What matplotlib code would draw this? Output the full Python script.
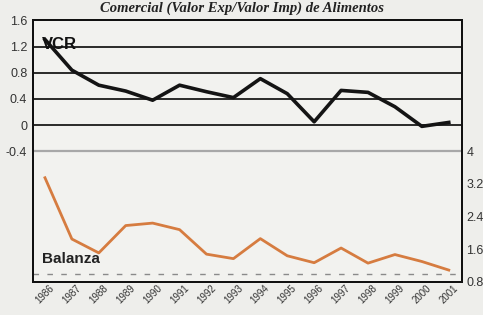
import matplotlib

matplotlib.use("Agg")
import matplotlib.pyplot as plt

years = [str(y) for y in range(1986, 2002)]
# VCR (left axis)
vcr = [1.31, 0.84, 0.61, 0.52, 0.38, 0.61, 0.51, 0.42, 0.71, 0.48,
       0.05, 0.53, 0.50, 0.28, -0.02, 0.04]
# Balanza comercial (right axis)
balanza = [3.35, 1.85, 1.51, 2.18, 2.24, 2.08, 1.48, 1.37, 1.86, 1.44,
           1.27, 1.63, 1.26, 1.47, 1.30, 1.09]
balanza_ref = 1.0

left_ticks = [-0.4, 0, 0.4, 0.8, 1.2, 1.6]
left_labels = ["-0.4", "0", "0.4", "0.8", "1.2", "1.6"]
right_ticks = [0.8, 1.6, 2.4, 3.2, 4.0]
right_labels = ["0.8", "1.6", "2.4", "3.2", "4"]

plt.rcParams["font.family"] = ["Liberation Sans", "DejaVu Sans"]

PAPER = "#eeeeeb"
fig = plt.figure(figsize=(4.83, 3.15), dpi=100, facecolor=PAPER)
ax = fig.add_axes([0.068, 0.105, 0.889, 0.83])
ax.set_facecolor("#f2f2ef")
x = range(len(years))

# horizontal gridlines of the upper (VCR) panel
for v in [0, 0.4, 0.8, 1.2]:
    ax.axhline(v, color="#1a1a1a", linewidth=1.3, zorder=1)
ax.axhline(-0.4, color="#a8a8a8", linewidth=1.6, zorder=1)

ax.plot(x, vcr, color="#141414", linewidth=2.6, zorder=3)
ax.set_ylim(-2.4, 1.6)
ax.set_xlim(-0.45, len(years) - 0.5)
ax.set_yticks(left_ticks)
ax.set_yticklabels(left_labels)
ax.set_xticks(list(x))
ax.set_xticklabels(years, rotation=45, ha="center", va="top", fontsize=7,
                   color="#333333")
ax.tick_params(axis="x", length=0, pad=1)
ax.tick_params(axis="y", length=0, labelsize=9, colors="#333333", pad=4)
ax.text(-0.1, 1.24, "VCR", fontsize=12, fontweight="bold", color="#111111",
        va="center", ha="left", zorder=4)

ax2 = ax.twinx()
ax2.plot(x, balanza, color="#d67c40", linewidth=2.0, zorder=3)
ax2.axhline(balanza_ref, color="#8a8a8a", linewidth=1.0,
            linestyle=(0, (4, 6)), zorder=2)
ax2.set_ylim(0.8, 7.2)
ax2.set_yticks(right_ticks)
ax2.set_yticklabels(right_labels)
ax2.tick_params(axis="y", length=0, labelsize=9, colors="#333333", pad=3)
ax2.text(-0.1, 1.18, "Balanza", fontsize=11, fontweight="bold",
         color="#222222", va="bottom", ha="left")

for a in (ax, ax2):
    for s in a.spines.values():
        s.set_color("#111111")
        s.set_linewidth(1.4)

fig.text(0.5, 0.962, "Comercial (Valor Exp/Valor Imp) de Alimentos",
         family="Liberation Serif", fontsize=10.5, fontweight="bold",
         style="italic", ha="center", va="baseline", color="#222222")

fig.savefig("out.png", dpi=100, facecolor=PAPER)
